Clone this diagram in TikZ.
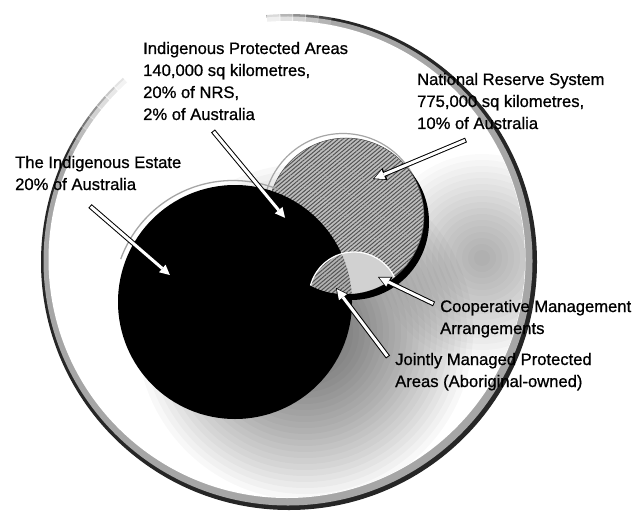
\documentclass[tikz,border=0pt]{standalone}
\usepackage{fontspec}
\setmainfont{Liberation Sans}
\newfontfamily\lblfont{Liberation Sans}[FakeBold=0.8]
\usetikzlibrary{arrows.meta,patterns.meta}
\tikzset{
  lbl/.style={font=\lblfont\fontsize{16.6}{22}\selectfont, align=left, anchor=base west, inner sep=0pt, text=black},
  hatch/.style={pattern={Lines[angle=40,distance=3pt,line width=1pt]}, pattern color=black!68},
  rimeraser/.style={white, line width=16},
  glowlayer/.style={fill=black, opacity=0.027},
  callout/.style={line width=5pt, draw=black, -{Triangle[length=13pt,width=13pt,line width=0pt]},
    postaction={draw=white, line width=3pt, -{Triangle[length=10pt,width=10pt,line width=0pt]}, shorten >=1.5pt, shorten <=1pt}}
}
\begin{document}
\begin{tikzpicture}[x=1pt,y=-1pt]
\useasboundingbox (0,0) rectangle (636,513);
\fill[white] (0,0) rectangle (636,513);
% outer circle (Australia) rim
\fill[black!85] (289,262) circle[radius=248];
\fill[black!35] (288,261) circle[radius=244.5];
\fill[white] (287,259.5) circle[radius=238.5];
% rim fades out at the upper left
\foreach \i in {0,...,6} {
  \pgfmathsetmacro\op{(\i+1)/8}
  \draw[rimeraser, opacity=\op] (288,261) ++(207+3*\i:243) arc[start angle=207+3*\i, end angle=210.2+3*\i, radius=243];
}
\draw[rimeraser] (288,261) ++(228:243) arc[start angle=228, end angle=265, radius=243];
\foreach \i in {0,...,4} {
  \pgfmathsetmacro\op{(5-\i)/6}
  \draw[rimeraser, opacity=\op] (288,261) ++(265+3*\i:243) arc[start angle=265+3*\i, end angle=268.2+3*\i, radius=243];
}
% soft grey glow inside (stacked translucent discs)
\begin{scope}
  \clip (287,259.5) circle[radius=238];
  \foreach \r in {104,98,...,8} {
    \fill[glowlayer, opacity=0.019] (482,258) circle[radius=\r];
  }
  \foreach \r in {168,162,...,6} {
    \fill[glowlayer] (305,332) circle[radius=\r];
  }
\end{scope}
% National Reserve System circle
\draw[black!35, line width=1.2] (343,213) circle[radius=79.5];
\fill[black] (351,222) circle[radius=78];
\fill[black!26] (346,216) circle[radius=78];
\fill[hatch] (346,216) circle[radius=78];
\draw[black!70, line width=0.5] (346,216) circle[radius=78];
% Indigenous Estate circle
\draw[black!35, line width=1.3] (233,300) ++(200:119.5) arc[start angle=200, end angle=292, radius=119.5];
\fill[black] (235,302) circle[radius=117];
% small overlap region
\begin{scope}
  \clip (346,216) circle[radius=78];
  \fill[black!18] (354,297) circle[radius=45];
  \begin{scope}
    \clip (235,302) circle[radius=117];
    \fill[black!30] (354,297) circle[radius=45];
    \fill[hatch] (354,297) circle[radius=45];
  \end{scope}
  \draw[white, line width=1.2] (354,297) circle[radius=45];
\end{scope}
% labels (anchored at the baseline of their last line)
\node[lbl] (ipa) at (143,120) {Indigenous Protected Areas\\140,000 sq kilometres,\\20\% of NRS,\\2\% of Australia};
\node[lbl] (nrs) at (417,129) {National Reserve System\\775,000 sq kilometres,\\10\% of Australia};
\node[lbl] (ie) at (15,190) {The Indigenous Estate\\20\% of Australia};
\node[lbl] (cma) at (440,334) {Cooperative Management\\Arrangements};
\node[lbl] (jm) at (395,387) {Jointly Managed Protected\\Areas (Aboriginal-owned)};
% arrow end points
\coordinate (ieS) at (90,206);   \coordinate (ieE) at (171,276);
\coordinate (ipaS) at (213,131); \coordinate (ipaE) at (286,219);
\coordinate (nrsS) at (466,140); \coordinate (nrsE) at (373,179);
\coordinate (cmaS) at (434,304); \coordinate (cmaE) at (378,277);
\coordinate (jmS) at (388,357);  \coordinate (jmE) at (336,288);
\draw[callout] (ieS) -- (ieE);
\draw[callout] (ipaS) -- (ipaE);
\draw[callout] (nrsS) -- (nrsE);
\draw[callout] (cmaS) -- (cmaE);
\draw[callout] (jmS) -- (jmE);
\end{tikzpicture}
\end{document}
